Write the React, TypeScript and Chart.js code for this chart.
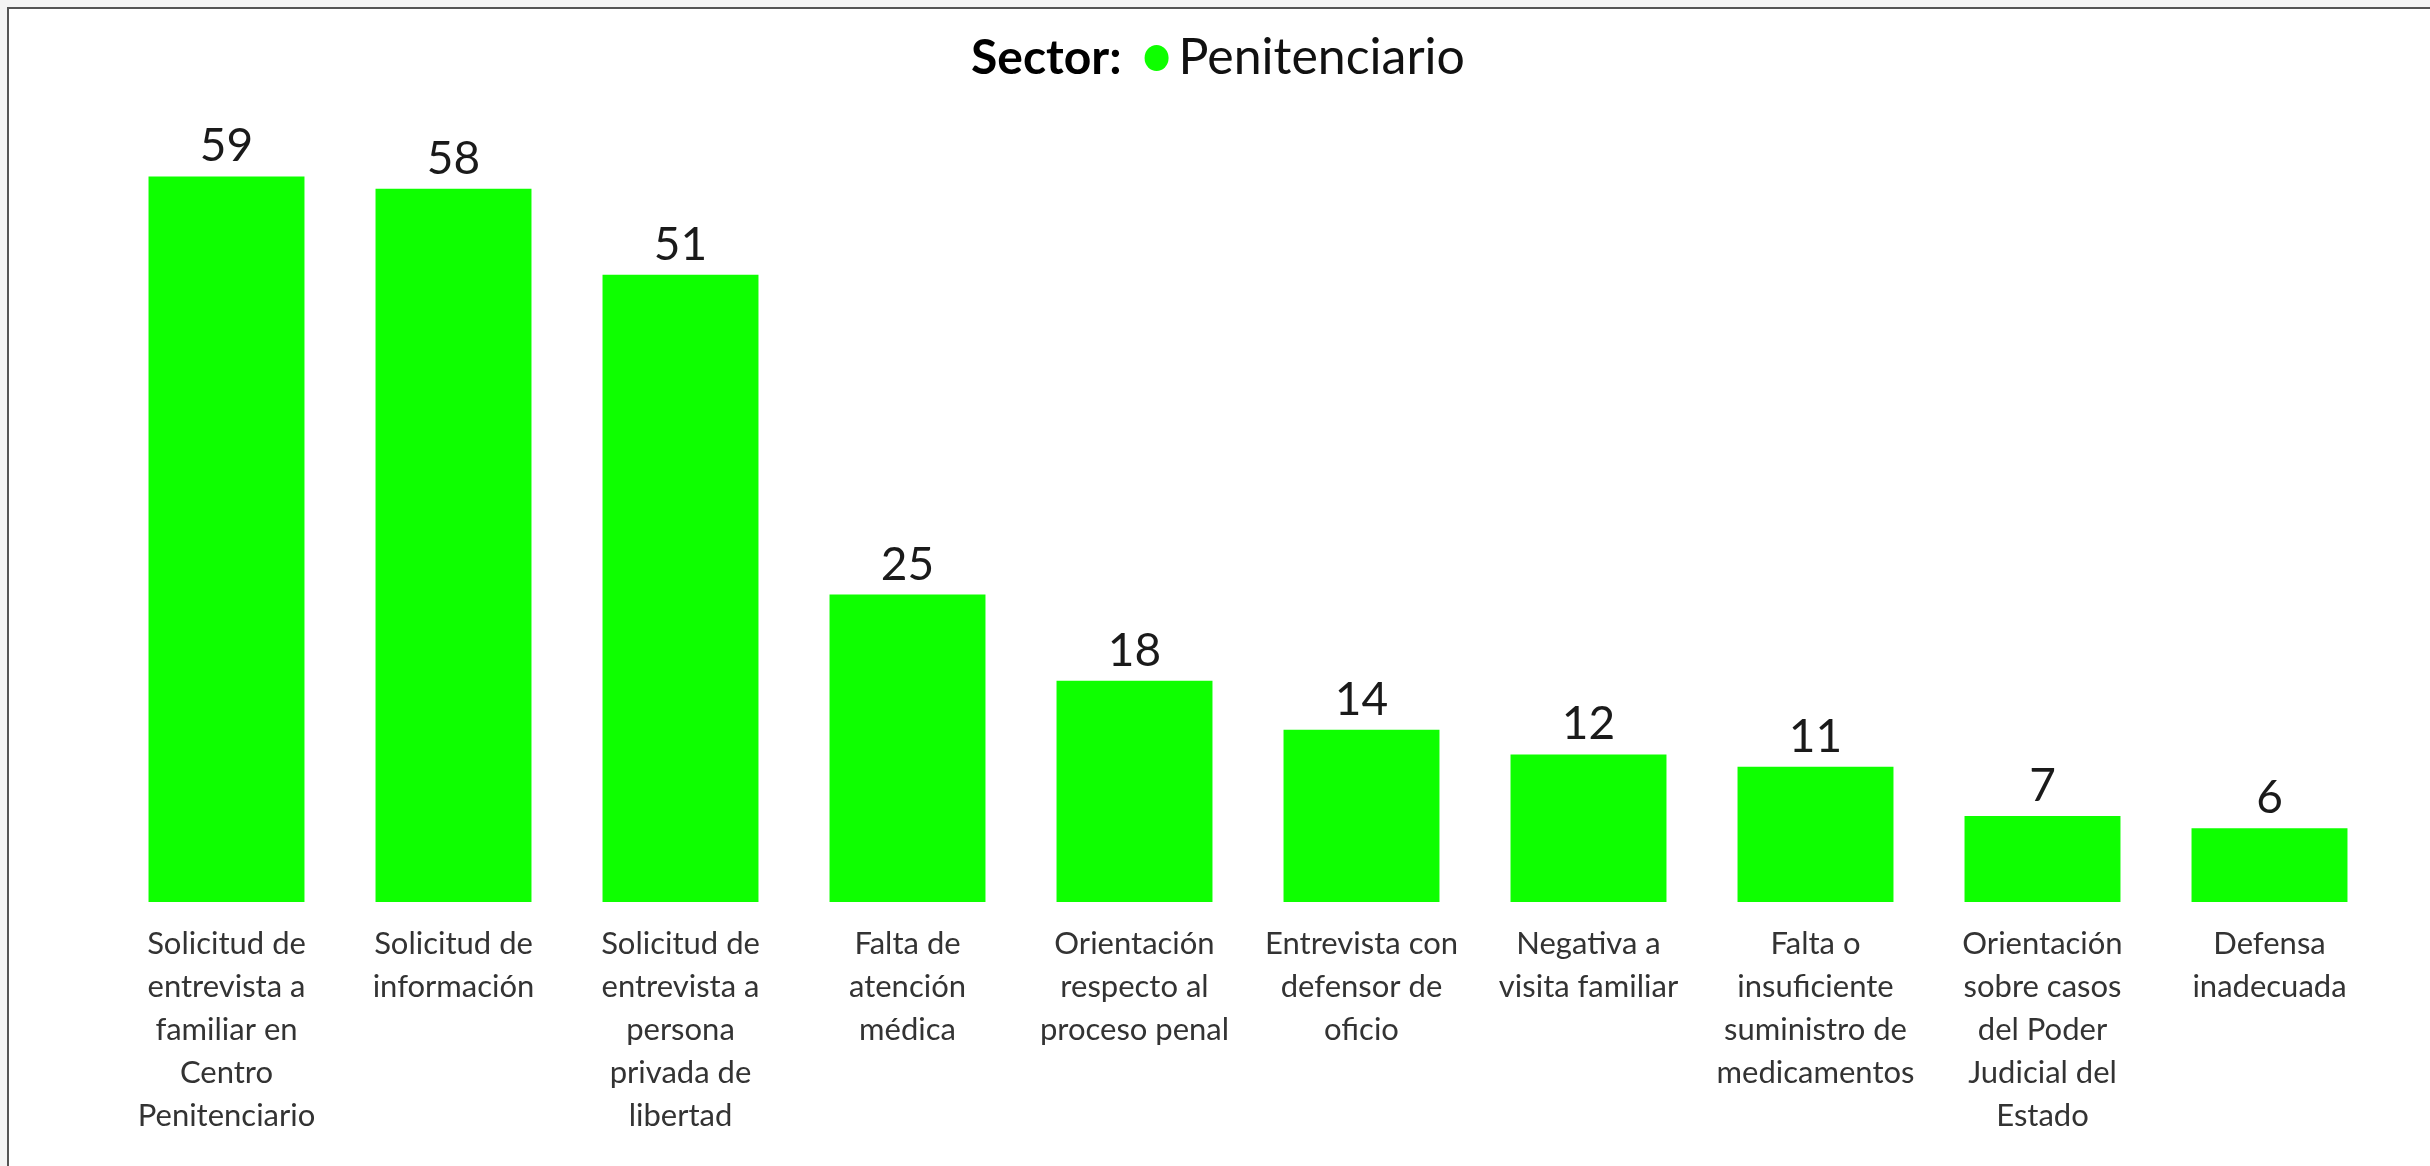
import React, { useEffect, useRef } from "react";
import { Chart, registerables } from "chart.js";

Chart.register(...registerables);

const categories: string[][] = [
  ["Solicitud de", "entrevista a", "familiar en", "Centro", "Penitenciario"],
  ["Solicitud de", "información"],
  ["Solicitud de", "entrevista a", "persona", "privada de", "libertad"],
  ["Falta de", "atención", "médica"],
  ["Orientación", "respecto al", "proceso penal"],
  ["Entrevista con", "defensor de", "oficio"],
  ["Negativa a", "visita familiar"],
  ["Falta o", "insuficiente", "suministro de", "medicamentos"],
  ["Orientación", "sobre casos", "del Poder", "Judicial del", "Estado"],
  ["Defensa", "inadecuada"],
];

const seriesName = "Penitenciario";
const seriesValues: number[] = [59, 58, 51, 25, 18, 14, 12, 11, 7, 6];
const titlePrefix = "Sector:";

const BAR_COLOR = "#0eff00";
const FONT = "Lato, 'Open Sans', sans-serif";

const valueLabelsPlugin = {
  id: "valueLabels",
  afterDatasetsDraw(chart: any) {
    const ctx = chart.ctx;
    const meta = chart.getDatasetMeta(0);
    ctx.save();
    ctx.font = `46px ${FONT}`;
    ctx.fillStyle = "#1a1a1a";
    ctx.textAlign = "center";
    ctx.textBaseline = "alphabetic";
    meta.data.forEach((bar: any, i: number) => {
      const v = chart.data.datasets[0].data[i];
      ctx.fillText(String(v), bar.x, bar.y - 15);
    });
    ctx.restore();
  },
};

const headerPlugin = {
  id: "header",
  afterDraw(chart: any) {
    const ctx = chart.ctx;
    const area = chart.chartArea;
    ctx.save();
    const boldFont = `bold 48px ${FONT}`;
    const regFont = `50px ${FONT}`;
    ctx.font = boldFont;
    const w1 = ctx.measureText(titlePrefix).width;
    ctx.font = regFont;
    const w2 = ctx.measureText(seriesName).width;
    const gap1 = 23;
    const r = 12;
    const gap2 = 10;
    const total = w1 + gap1 + 2 * r + gap2 + w2;
    const cx = (area.left + area.right) / 2 - 30;
    let x = cx - total / 2;
    const baseY = 65;
    ctx.textBaseline = "alphabetic";
    ctx.textAlign = "left";
    ctx.fillStyle = "#000000";
    ctx.font = boldFont;
    ctx.fillText(titlePrefix, x, baseY);
    x += w1 + gap1;
    ctx.beginPath();
    ctx.ellipse(x + r, baseY - 16, r, r + 1, 0, 0, Math.PI * 2);
    ctx.fillStyle = BAR_COLOR;
    ctx.fill();
    x += 2 * r + gap2;
    ctx.fillStyle = "#111111";
    ctx.font = regFont;
    ctx.fillText(seriesName, x, baseY);
    ctx.restore();
  },
};

export default function App() {
  const canvasRef = useRef<HTMLCanvasElement | null>(null);

  useEffect(() => {
    if (!canvasRef.current) return;
    const chart = new Chart(canvasRef.current, {
      type: "bar",
      data: {
        labels: categories,
        datasets: [
          {
            label: seriesName,
            data: seriesValues,
            backgroundColor: BAR_COLOR,
            borderWidth: 0,
            categoryPercentage: 1,
            barPercentage: 0.687,
          },
        ],
      },
      options: {
        animation: false,
        responsive: false,
        maintainAspectRatio: false,
        layout: {
          padding: { left: 104, right: 47, top: 106, bottom: 9 },
        },
        plugins: {
          legend: { display: false },
          tooltip: { enabled: false },
          title: { display: false },
        },
        scales: {
          x: {
            grid: { display: false, drawTicks: false },
            border: { display: false },
            ticks: {
              padding: 20,
              color: "#333333",
              font: { family: FONT, size: 31, lineHeight: 43 / 31 },
              maxRotation: 0,
              autoSkip: false,
            },
          },
          y: {
            display: false,
            min: 0,
            max: 64,
          },
        },
      },
      plugins: [valueLabelsPlugin, headerPlugin],
    });
    return () => chart.destroy();
  }, []);

  return (
    <div
      style={{
        position: "fixed",
        left: 0,
        top: 0,
        width: 2430,
        height: 1166,
        background: "#f4f4f4",
        overflow: "hidden",
      }}
    >
      <div
        style={{
          position: "absolute",
          left: 7,
          top: 7,
          width: 2423,
          height: 1159,
          boxSizing: "border-box",
          borderTop: "2px solid #555555",
          borderLeft: "2px solid #555555",
          background: "#ffffff",
          overflow: "hidden",
        }}
      >
        <canvas ref={canvasRef} width={2421} height={1157} style={{ display: "block" }} />
      </div>
    </div>
  );
}
